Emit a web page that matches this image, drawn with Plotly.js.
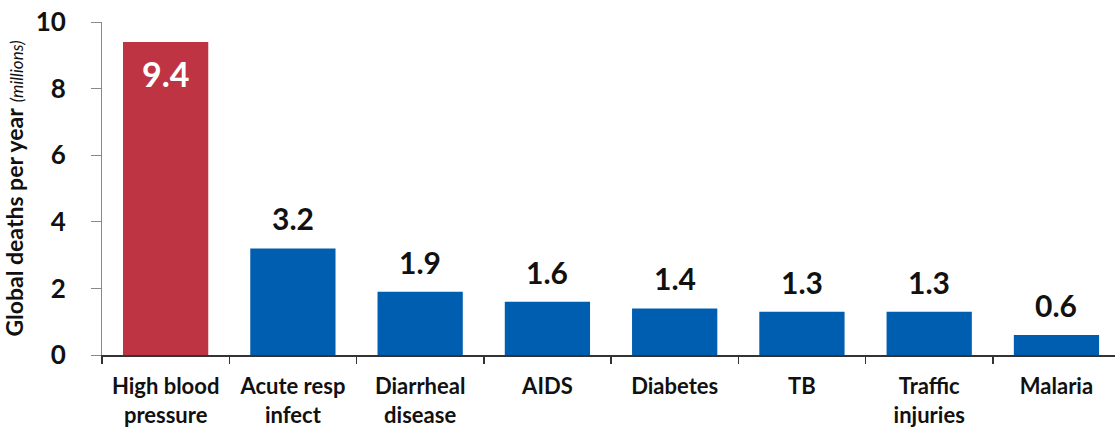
<!DOCTYPE html>
<html>
<head>
<meta charset="utf-8">
<script src="https://cdn.plot.ly/plotly-3.0.1.min.js"></script>
<style>html,body{margin:0;padding:0;background:#fff;}#chart{width:1115px;height:428px;}</style>
</head>
<body>
<div id="chart"></div>
<script>
const categories = ["High blood<br>pressure", "Acute resp<br>infect", "Diarrheal<br>disease", "AIDS", "Diabetes", "TB", "Traffic<br>injuries", "Malaria"];
const values = [9.4, 3.2, 1.9, 1.6, 1.4, 1.3, 1.3, 0.6];
const labels = ["9.4", "3.2", "1.9", "1.6", "1.4", "1.3", "1.3", "0.6"];
const yTicks = [0, 2, 4, 6, 8, 10];

const FONT = "Lato, 'Open Sans', sans-serif";
const colors = values.map((v, i) => i === 0 ? "#BE3443" : "#005EB0");

const trace = {
  type: "bar",
  x: categories,
  y: values,
  marker: {color: colors, line: {width: 0}},
  hoverinfo: "none"
};

const annotations = values.map((v, i) => i === 0 ? {
  x: categories[i], y: v, xref: "x", yref: "y",
  text: "<b>" + labels[i] + "</b>", showarrow: false,
  yanchor: "top", yshift: -9,
  font: {family: FONT, size: 34, color: "#ffffff"}
} : {
  x: categories[i], y: v, xref: "x", yref: "y",
  text: "<b>" + labels[i] + "</b>", showarrow: false,
  yanchor: "bottom", yshift: 10,
  font: {family: FONT, size: 30, color: "#111111"}
});

const layout = {
  width: 1115, height: 428,
  margin: {l: 102, r: 0, t: 22, b: 73},
  paper_bgcolor: "#fff", plot_bgcolor: "#fff",
  bargap: 0.33,
  showlegend: false,
  annotations: annotations,
  xaxis: {
    range: [-0.5, 7.46],
    tickson: "boundaries",
    ticks: "outside", ticklen: 7, tickcolor: "#333", tickwidth: 1.5,
    showline: true, linecolor: "#333", linewidth: 1.5,
    showgrid: false, zeroline: false,
    ticklabelstandoff: 11,
    tickfont: {family: FONT, size: 22, color: "#111", weight: "bold"},
    fixedrange: true
  },
  yaxis: {
    range: [0, 10],
    tickvals: yTicks,
    ticktext: yTicks.map(String),
    ticks: "outside", ticklen: 10, tickcolor: "#888", tickwidth: 1,
    showline: true, linecolor: "#888", linewidth: 1,
    showgrid: false, zeroline: false,
    ticklabelstandoff: 20,
    tickfont: {family: FONT, size: 26, color: "#111", weight: "bold"},
    title: {
      text: "<b>Global deaths per year</b> <i><span style='font-size:17px'>(millions)</span></i>",
      font: {family: FONT, size: 23, color: "#111"},
      standoff: 10
    },
    fixedrange: true
  }
};

Plotly.newPlot("chart", [trace], layout, {displayModeBar: false, staticPlot: true});
</script>
</body>
</html>
